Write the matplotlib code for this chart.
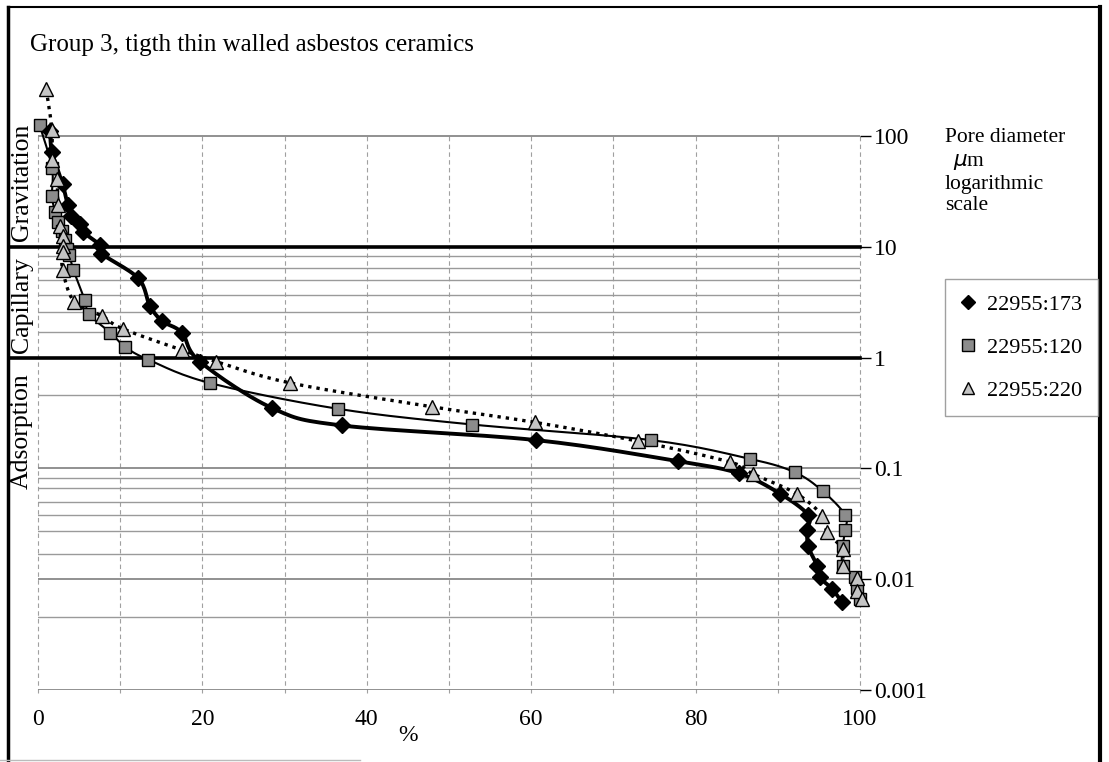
import numpy as np
import matplotlib
matplotlib.use("Agg")
import matplotlib.pyplot as plt
from matplotlib.lines import Line2D

plt.rcParams['font.family'] = ['Liberation Serif', 'DejaVu Serif']

# -------------------------------------------------------
# Data (percent of pore volume vs pore diameter in um)
# -------------------------------------------------------

pct_173 = [1.5, 1.7, 3.0, 3.6, 4.0, 5.1, 5.5, 7.5, 7.7, 12.2, 13.6, 15.1, 17.5,
           19.7, 28.5, 37.0, 60.6, 77.9, 85.3, 90.3, 93.7, 93.6, 93.7, 94.8,
           95.1, 96.6, 97.8]
dia_173 = [110, 72, 36.5, 24, 19, 16, 13.6, 10.4, 8.7, 5.2, 2.95, 2.14, 1.68,
           0.92, 0.35, 0.244, 0.18, 0.116, 0.09, 0.059, 0.038, 0.028, 0.0198,
           0.0132, 0.0104, 0.0082, 0.0062]

pct_120 = [0.2, 1.7, 1.7, 2.1, 2.4, 2.9, 3.3, 3.5, 3.8, 4.3, 5.7, 6.2, 8.8,
           10.6, 13.4, 20.9, 36.5, 52.8, 74.6, 86.6, 92.1, 95.5, 98.2, 98.2,
           97.9, 97.9, 99.4, 99.6, 100.0]
dia_120 = [125, 51.8, 28.5, 20.5, 16.7, 13.9, 11.5, 9.6, 8.5, 6.2, 3.3, 2.46,
           1.68, 1.25, 0.96, 0.59, 0.345, 0.249, 0.18, 0.122, 0.092, 0.062,
           0.038, 0.028, 0.0198, 0.0132, 0.0104, 0.0084, 0.0066]

pct_220 = [1.0, 1.7, 1.7, 2.3, 2.4, 2.7, 3.0, 3.0, 3.0, 3.0, 4.4, 7.8, 10.3,
           17.5, 21.7, 30.7, 47.9, 60.5, 73.0, 84.2, 87.0, 92.3, 95.4, 96.0,
           97.9, 97.9, 99.6, 99.6, 100.2]
dia_220 = [263, 113, 61, 40.5, 24, 15.4, 12.5, 10.2, 9.05, 6.2, 3.2, 2.37,
           1.82, 1.17, 0.92, 0.59, 0.36, 0.26, 0.176, 0.114, 0.089, 0.059,
           0.0375, 0.0267, 0.0186, 0.0132, 0.0102, 0.0079, 0.0066]

x_ticks = [0, 20, 40, 60, 80, 100]
y_ticks = [100, 10, 1, 0.1, 0.01, 0.001]
y_labels = ["100", "10", "1", "0.1", "0.01", "0.001"]

minor_lines = [8.2, 6.4, 5.0, 3.7, 2.6, 1.7, 0.46,
               0.082, 0.066, 0.05, 0.038, 0.027, 0.017, 0.0046]


def smooth(x, y, n=16):
    # Excel-like smoothed line: Bezier through the points in (x, log y)
    p = np.column_stack([np.asarray(x, float), np.log10(y)])
    p = np.vstack([p[0], p, p[-1]])
    out = []
    for i in range(1, len(p) - 2):
        p0, p1, p2, p3 = p[i - 1], p[i], p[i + 1], p[i + 2]
        c1 = p1 + (p2 - p0) / 6.0
        c2 = p2 - (p3 - p1) / 6.0
        t = np.linspace(0, 1, n)[:, None]
        seg = ((1 - t) ** 3) * p1 + 3 * ((1 - t) ** 2) * t * c1 \
            + 3 * (1 - t) * t ** 2 * c2 + t ** 3 * p2
        out.append(seg)
    out = np.vstack(out)
    return out[:, 0], 10 ** out[:, 1]


fig = plt.figure(figsize=(11.09, 7.62), dpi=100)
W, H = 1109, 762

ax = fig.add_axes([38 / W, (H - 690) / H, (860 - 38) / W, (690 - 80) / H])
ax.set_yscale("log")
ax.set_xlim(0, 100)
ax.set_ylim(0.001, 10 ** (2 + 56 / 110.8))
for s in ax.spines.values():
    s.set_visible(False)

# grid
for x in range(0, 101, 10):
    ax.plot([x, x], [0.00093, 100], color="#a0a0a0", lw=0.8,
            ls=(0, (4, 3)), zorder=1, clip_on=False)
for v in minor_lines:
    ax.plot([0, 100], [v, v], color="#9a9a9a", lw=1.0, zorder=1)
for v in [100, 0.1, 0.01, 0.001]:
    ax.plot([0, 100], [v, v], color="#888888", lw=1.3, zorder=1)
for v in [10, 1]:
    ax.plot([-3.5, 100], [v, v], color="black", lw=2.6, zorder=1,
            clip_on=False)

# curves
sx, sy = smooth(pct_173, dia_173)
ax.plot(sx, sy, color="black", lw=2.8, zorder=3, clip_on=False)
sx, sy = smooth(pct_120, dia_120)
ax.plot(sx, sy, color="black", lw=1.5, zorder=3, clip_on=False)
sx, sy = smooth(pct_220, dia_220)
ax.plot(sx, sy, color="black", lw=2.4, ls=(0, (1, 1.5)), zorder=3,
        clip_on=False)

ax.plot(pct_173, dia_173, ls="none", marker="D", ms=8, mfc="black",
        mec="black", zorder=5, clip_on=False)
ax.plot(pct_120, dia_120, ls="none", marker="s", ms=9, mfc="#8c8c8c",
        mec="black", mew=1.0, zorder=4, clip_on=False)
ax.plot(pct_220, dia_220, ls="none", marker="^", ms=10, mfc="#c4c4c4",
        mec="black", mew=1.0, zorder=6, clip_on=False)

# ticks
ax.set_xticks(x_ticks)
ax.set_xticklabels([str(v) for v in x_ticks], fontsize=17)
ax.tick_params(axis="x", length=0, pad=14)
ax.yaxis.tick_right()
ax.set_yticks(y_ticks)
ax.set_yticklabels(y_labels, fontsize=17)
ax.yaxis.set_minor_locator(matplotlib.ticker.NullLocator())
ax.tick_params(axis="y", length=8, width=1.0, pad=2, right=True)
ax.text(45, -0.075, "%", transform=ax.get_xaxis_transform(), fontsize=17,
        ha="center", va="center")

# legend
handles = [
    Line2D([], [], ls="none", marker="D", ms=7, mfc="black", mec="black"),
    Line2D([], [], ls="none", marker="s", ms=8.5, mfc="#8c8c8c", mec="black"),
    Line2D([], [], ls="none", marker="^", ms=9, mfc="#c4c4c4", mec="black"),
]
leg = fig.legend(handles, ["22955:173", "22955:120", "22955:220"],
                 loc="upper left", bbox_to_anchor=(945 / W, 1 - 279 / H),
                 fontsize=16, frameon=True, fancybox=False,
                 edgecolor="#888888", borderaxespad=0, handlelength=0.7,
                 handletextpad=0.5, labelspacing=1.0, borderpad=0.7)
leg.get_frame().set_linewidth(1.0)

# texts
fig.text(30 / W, 1 - 45 / H, "Group 3, tigth thin walled asbestos ceramics",
         fontsize=18, ha="left", va="center")
fig.text(945 / W, 1 - 138 / H, "Pore diameter", fontsize=15.5, va="center")
fig.text(953 / W, 1 - 162 / H, r"$\mathit{\mu}$m", fontsize=15.5,
         va="center")
fig.text(945 / W, 1 - 184 / H, "logarithmic", fontsize=15.5, va="center")
fig.text(945 / W, 1 - 206 / H, "scale", fontsize=15.5, va="center")

for label, yc in [("Gravitation", 182), ("Capillary", 305),
                  ("Adsorption", 431)]:
    fig.text(22 / W, 1 - yc / H, label, fontsize=18.5, rotation=90,
             ha="center", va="center")

# frame around the figure
fig.add_artist(Line2D([8 / W, 8 / W], [0, 1 - 7 / H], color="black", lw=2.5))
fig.add_artist(Line2D([8 / W, 1100 / W], [1 - 7 / H, 1 - 7 / H],
                      color="black", lw=1.5))
fig.add_artist(Line2D([1100 / W, 1100 / W], [0, 1 - 7 / H], color="black",
                      lw=3))
fig.add_artist(Line2D([0, 360 / W], [2 / H, 2 / H], color="#bbbbbb",
                      lw=1))

plt.savefig("out.png", dpi=100)
plt.close()
